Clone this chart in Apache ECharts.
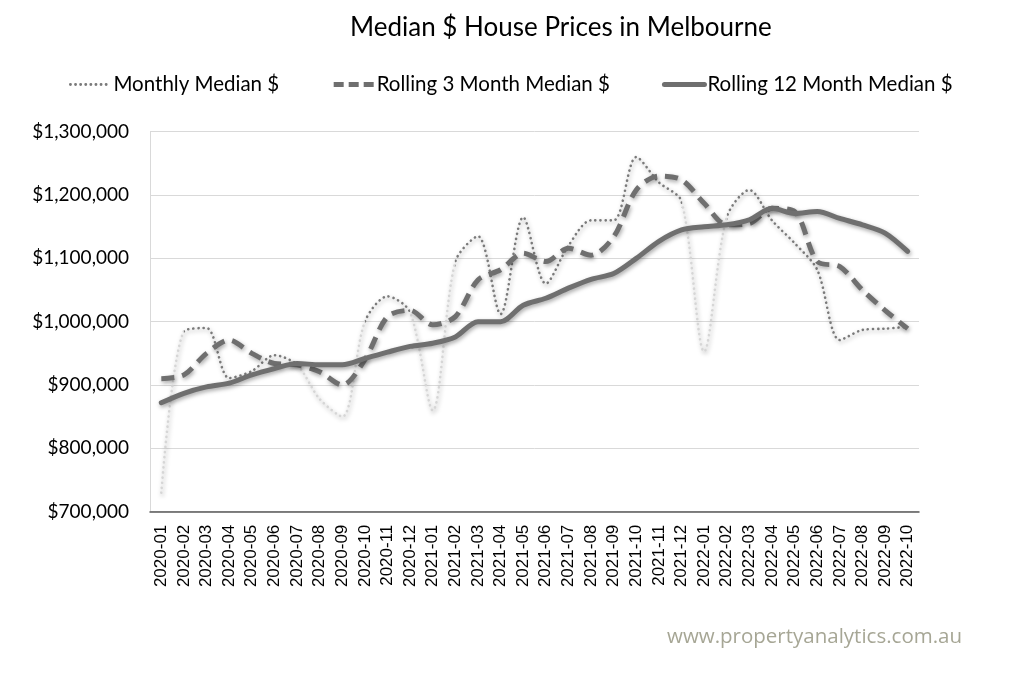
<!DOCTYPE html>
<html>
<head>
<meta charset="utf-8">
<script src="https://cdn.jsdelivr.net/npm/echarts@6/dist/echarts.min.js"></script>
<style>
html,body{margin:0;padding:0;background:#fff;}
#chart{width:1024px;height:674px;}
</style>
</head>
<body>
<div id="chart"></div>
<script>
const categories = ['2020-01','2020-02','2020-03','2020-04','2020-05','2020-06','2020-07','2020-08','2020-09','2020-10','2020-11','2020-12',
  '2021-01','2021-02','2021-03','2021-04','2021-05','2021-06','2021-07','2021-08','2021-09','2021-10','2021-11','2021-12',
  '2022-01','2022-02','2022-03','2022-04','2022-05','2022-06','2022-07','2022-08','2022-09','2022-10'];

const monthlyMedian = [730000, 985000, 990000, 911000, 922000, 947000, 932000, 878000, 850000, 1000000, 1040000, 1015000,
  860000, 1095000, 1135000, 1012000, 1165000, 1060000, 1120000, 1160000, 1160000, 1260000, 1220000, 1190000,
  953000, 1165000, 1208000, 1160000, 1124000, 1082000, 971000, 987000, 989000, 992000];

const rolling3Median = [910000, 916000, 950000, 971000, 950000, 934000, 932000, 921000, 900000, 940000, 1008000, 1018000,
  995000, 1008000, 1066000, 1082000, 1108000, 1095000, 1116000, 1105000, 1134000, 1208000, 1230000, 1224000,
  1187000, 1153000, 1155000, 1179000, 1174000, 1095000, 1087000, 1050000, 1018000, 989000];

const rolling12Median = [872000, 887000, 897000, 903000, 916000, 926000, 934000, 932000, 932000, 942000, 952000, 961000,
  966000, 976000, 1000000, 1000000, 1026000, 1037000, 1053000, 1067000, 1076000, 1100000, 1127000, 1145000,
  1150000, 1153000, 1161000, 1179000, 1171000, 1174000, 1163000, 1153000, 1140000, 1111000];

const seriesNames = ['Monthly Median $', 'Rolling 3 Month Median $', 'Rolling 12 Month Median $'];
const titleText = 'Median $ House Prices in Melbourne';
const sourceText = 'www.propertyanalytics.com.au';

const DARK_DOT = '#7a7a7a';
const LIGHT_DOT = '#d6d6d6';
const LINE = '#6f6f6f';
const shadow = {shadowColor:'rgba(0,0,0,0.35)', shadowBlur:4, shadowOffsetX:1, shadowOffsetY:2};

const chart = echarts.init(document.getElementById('chart'), null, {renderer:'canvas'});
chart.setOption({
  animation:false,
  backgroundColor:'#ffffff',
  title:{
    text:titleText, left:345, top:10,
    textStyle:{fontFamily:'Lato', fontSize:26, fontWeight:'normal', color:'#000'}
  },
  legend:{
    data:[
      {name:seriesNames[0], itemStyle:{opacity:0}, lineStyle:{color:DARK_DOT, width:2.8, type:[0.1,5], cap:'round'}},
      {name:seriesNames[1], itemStyle:{opacity:0}, lineStyle:{color:LINE, width:5, type:[10,5]}},
      {name:seriesNames[2], itemStyle:{opacity:0}, lineStyle:{color:LINE, width:5, type:'solid', cap:'round'}}
    ],
    left:64, top:69, itemGap:52, itemWidth:40, itemHeight:14,
    textStyle:{fontFamily:'Lato', fontSize:20.5, color:'#000', padding:[0,0,0,-2]}
  },
  grid:{left:150, right:105, top:131.7, bottom:162.3, containLabel:false},
  xAxis:{
    type:'category', data:categories, boundaryGap:true,
    axisLine:{lineStyle:{color:'#595959', width:1.5}},
    axisTick:{show:false},
    axisLabel:{rotate:90, interval:0, fontFamily:'Liberation Sans', fontSize:17, color:'#000', margin:13}
  },
  yAxis:{
    type:'value', min:700000, max:1300000, interval:100000,
    axisLine:{show:true, lineStyle:{color:'#d9d9d9', width:1}},
    axisTick:{show:false},
    splitLine:{lineStyle:{color:'#d9d9d9', width:1}},
    axisLabel:{fontFamily:'Lato', fontSize:19, color:'#000', margin:21,
      formatter:v => '$' + v.toLocaleString('en-US')}
  },
  visualMap:{
    show:false, seriesIndex:0, dimension:0,
    pieces:[
      {lt:1, color:LIGHT_DOT},
      {gte:1, lt:6.4, color:DARK_DOT},
      {gte:6.4, lt:9, color:LIGHT_DOT},
      {gte:9, lt:11.2, color:DARK_DOT},
      {gte:11.2, lt:13, color:LIGHT_DOT},
      {gte:13, lt:23, color:DARK_DOT},
      {gte:23, lt:24.8, color:LIGHT_DOT},
      {gte:24.8, color:DARK_DOT}
    ]
  },
  graphic:[{
    type:'text', left:667, top:627,
    style:{text:sourceText, fontFamily:'Open Sans', fontSize:20.5, fill:'#a6a695'}
  }],
  series:[
    {name:seriesNames[0], type:'line', data:monthlyMedian, smooth:0.3, symbol:'none', z:3,
      lineStyle:Object.assign({width:2.6, type:[0.1,5], cap:'round'}, shadow)},
    {name:seriesNames[1], type:'line', data:rolling3Median, smooth:0.3, symbol:'none', z:4,
      itemStyle:{color:LINE},
      lineStyle:Object.assign({color:LINE, width:5, type:[13,8]}, shadow)},
    {name:seriesNames[2], type:'line', data:rolling12Median, smooth:0.3, symbol:'none', z:5,
      itemStyle:{color:LINE},
      lineStyle:Object.assign({color:LINE, width:5, type:'solid', cap:'round'}, shadow)}
  ]
});
</script>
</body>
</html>
